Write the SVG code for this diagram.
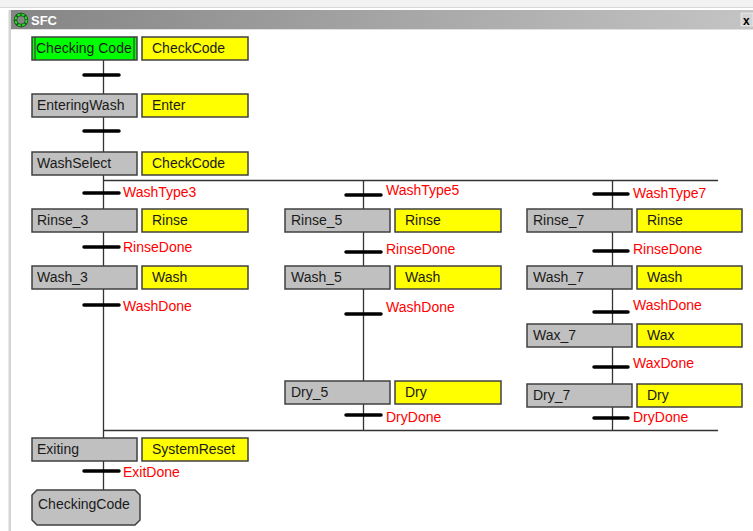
<svg xmlns="http://www.w3.org/2000/svg" width="753" height="531" viewBox="0 0 753 531">
<defs>
<linearGradient id="tb" x1="0" y1="0" x2="1" y2="0">
<stop offset="0" stop-color="#858585"/>
<stop offset="1" stop-color="#c4c4c4"/>
</linearGradient>
<style>
.step{fill:#c0c0c0;stroke:#404040;stroke-width:1.5}
.act{fill:#ffff00;stroke:#404040;stroke-width:1.5}
.t{font-family:"Liberation Sans",Arial,sans-serif;font-size:14px;fill:#1a1a1a}
.lbl{font-family:"Liberation Sans",Arial,sans-serif;font-size:14px;fill:#ff0000}
.bar{stroke:#000;stroke-width:3.5;stroke-linecap:round}
.wire{stroke:#333;stroke-width:1.3;fill:none}
</style>
</defs>
<rect x="0" y="0" width="753" height="531" fill="#ffffff"/>
<rect x="0" y="0" width="753" height="7" fill="#f2f2f2"/>
<line x1="0" y1="7.5" x2="753" y2="7.5" stroke="#d8d8d8"/>
<g id="window">
<rect x="10" y="10" width="743" height="19" fill="url(#tb)"/>
<line x1="10" y1="29.5" x2="753" y2="29.5" stroke="#e0e0e0"/>
<rect x="8.5" y="10" width="2.5" height="521" fill="#d4d4d4"/>
<circle cx="21" cy="20" r="5.5" fill="none" stroke="#1a4d1a" stroke-width="3.5"/>
<circle cx="21" cy="20" r="5.5" fill="none" stroke="#22dd22" stroke-width="2" stroke-dasharray="3 1.3"/>
<text x="31" y="25" font-family="'Liberation Sans',Arial,sans-serif" font-size="13" font-weight="bold" fill="#ffffff">SFC</text>
<rect x="741" y="13" width="12" height="13" fill="#d4d4d4" stroke="#ffffff" stroke-width="0.5"/>
<text x="743" y="25" font-family="'Liberation Sans',Arial,sans-serif" font-size="12" font-weight="bold" fill="#000">x</text>
</g>
<g id="connectors">
<path class="wire" d="M103.5 60 V490"/>
<path class="wire" d="M363.5 180.5 V430.5"/>
<path class="wire" d="M612.5 180.5 V430.5"/>
<path class="wire" d="M103.5 180.5 H718"/>
<path class="wire" d="M103.5 430.5 H718"/>
</g>
<g id="CheckingCode">
<rect x="32" y="37" width="105" height="23" fill="#00ff00" stroke="#404040" stroke-width="1.5"/>
<line x1="35" y1="37" x2="35" y2="60" stroke="#404040" stroke-width="1.2"/>
<line x1="134" y1="37" x2="134" y2="60" stroke="#404040" stroke-width="1.2"/>
<text class="t" x="36" y="53">Checking Code</text>
</g>
<g id="act_CheckCode1"><rect class="act" x="142" y="37" width="106" height="23"/><text class="t" x="152" y="53">CheckCode</text></g>
<g id="t1"><line class="bar" x1="84" y1="75" x2="119" y2="75"/></g>
<g id="EnteringWash"><rect class="step" x="32" y="94" width="105" height="23"/><text class="t" x="37" y="110">EnteringWash</text></g>
<g id="act_Enter"><rect class="act" x="142" y="94" width="106" height="23"/><text class="t" x="152" y="110">Enter</text></g>
<g id="t2"><line class="bar" x1="84" y1="131" x2="119" y2="131"/></g>
<g id="WashSelect"><rect class="step" x="32" y="152" width="105" height="23"/><text class="t" x="37" y="168">WashSelect</text></g>
<g id="act_CheckCode2"><rect class="act" x="142" y="152" width="106" height="23"/><text class="t" x="152" y="168">CheckCode</text></g>
<g id="t_WashType3"><line class="bar" x1="84" y1="193" x2="119" y2="193"/><text class="lbl" x="123" y="197">WashType3</text></g>
<g id="Rinse_3"><rect class="step" x="32" y="209" width="105" height="23"/><text class="t" x="37" y="225">Rinse_3</text></g>
<g id="act_Rinse3"><rect class="act" x="142" y="209" width="106" height="23"/><text class="t" x="152" y="225">Rinse</text></g>
<g id="t_RinseDone3"><line class="bar" x1="84" y1="247" x2="119" y2="247"/><text class="lbl" x="123" y="252">RinseDone</text></g>
<g id="Wash_3"><rect class="step" x="32" y="266" width="105" height="23"/><text class="t" x="37" y="282">Wash_3</text></g>
<g id="act_Wash3"><rect class="act" x="142" y="266" width="106" height="23"/><text class="t" x="152" y="282">Wash</text></g>
<g id="t_WashDone3"><line class="bar" x1="84" y1="305" x2="119" y2="305"/><text class="lbl" x="123" y="311">WashDone</text></g>
<g id="t_WashType5"><line class="bar" x1="346" y1="195" x2="381" y2="195"/><text class="lbl" x="386" y="195">WashType5</text></g>
<g id="Rinse_5"><rect class="step" x="285" y="209" width="105" height="23"/><text class="t" x="291" y="225">Rinse_5</text></g>
<g id="act_Rinse5"><rect class="act" x="395" y="209" width="106" height="23"/><text class="t" x="405" y="225">Rinse</text></g>
<g id="t_RinseDone5"><line class="bar" x1="346" y1="252" x2="381" y2="252"/><text class="lbl" x="386" y="254">RinseDone</text></g>
<g id="Wash_5"><rect class="step" x="285" y="266" width="105" height="23"/><text class="t" x="291" y="282">Wash_5</text></g>
<g id="act_Wash5"><rect class="act" x="395" y="266" width="106" height="23"/><text class="t" x="405" y="282">Wash</text></g>
<g id="t_WashDone5"><line class="bar" x1="346" y1="314" x2="381" y2="314"/><text class="lbl" x="386" y="312">WashDone</text></g>
<g id="Dry_5"><rect class="step" x="285" y="381" width="105" height="23"/><text class="t" x="291" y="397">Dry_5</text></g>
<g id="act_Dry5"><rect class="act" x="395" y="381" width="106" height="23"/><text class="t" x="405" y="397">Dry</text></g>
<g id="t_DryDone5"><line class="bar" x1="346" y1="415" x2="381" y2="415"/><text class="lbl" x="386" y="422">DryDone</text></g>
<g id="t_WashType7"><line class="bar" x1="594" y1="194" x2="628" y2="194"/><text class="lbl" x="633" y="198">WashType7</text></g>
<g id="Rinse_7"><rect class="step" x="527" y="209" width="105" height="23"/><text class="t" x="533" y="225">Rinse_7</text></g>
<g id="act_Rinse7"><rect class="act" x="637" y="209" width="105" height="23"/><text class="t" x="647" y="225">Rinse</text></g>
<g id="t_RinseDone7"><line class="bar" x1="594" y1="251" x2="628" y2="251"/><text class="lbl" x="633" y="254">RinseDone</text></g>
<g id="Wash_7"><rect class="step" x="527" y="266" width="105" height="23"/><text class="t" x="533" y="282">Wash_7</text></g>
<g id="act_Wash7"><rect class="act" x="637" y="266" width="105" height="23"/><text class="t" x="647" y="282">Wash</text></g>
<g id="t_WashDone7"><line class="bar" x1="594" y1="312" x2="628" y2="312"/><text class="lbl" x="633" y="310">WashDone</text></g>
<g id="Wax_7"><rect class="step" x="527" y="324" width="105" height="23"/><text class="t" x="533" y="340">Wax_7</text></g>
<g id="act_Wax7"><rect class="act" x="637" y="324" width="105" height="23"/><text class="t" x="647" y="340">Wax</text></g>
<g id="t_WaxDone7"><line class="bar" x1="594" y1="367" x2="628" y2="367"/><text class="lbl" x="633" y="368">WaxDone</text></g>
<g id="Dry_7"><rect class="step" x="527" y="384" width="105" height="23"/><text class="t" x="533" y="400">Dry_7</text></g>
<g id="act_Dry7"><rect class="act" x="637" y="384" width="105" height="23"/><text class="t" x="647" y="400">Dry</text></g>
<g id="t_DryDone7"><line class="bar" x1="594" y1="418" x2="628" y2="418"/><text class="lbl" x="633" y="422">DryDone</text></g>
<g id="Exiting"><rect class="step" x="32" y="438" width="105" height="23"/><text class="t" x="37" y="454">Exiting</text></g>
<g id="act_SystemReset"><rect class="act" x="142" y="438" width="106" height="23"/><text class="t" x="152" y="454">SystemReset</text></g>
<g id="t_ExitDone"><line class="bar" x1="84" y1="471" x2="119" y2="471"/><text class="lbl" x="123" y="477">ExitDone</text></g>
<g id="jump_CheckingCode">
<path class="step" d="M37 490 H135 L140 495 V520 L135 525 H37 L32 520 V495 Z"/>
<text class="t" x="38" y="509">CheckingCode</text>
</g>
</svg>
